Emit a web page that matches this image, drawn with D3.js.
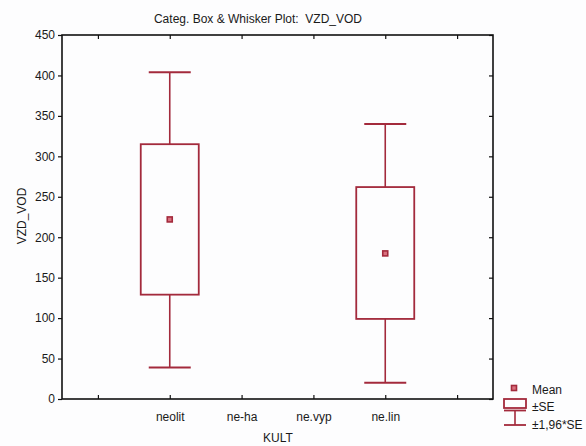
<!DOCTYPE html>
<html>
<head>
<meta charset="utf-8">
<script src="https://cdn.jsdelivr.net/npm/d3@7"></script>
<style>
  html, body { margin: 0; padding: 0; background: #fdfdfe; }
  svg { display: block; }
  text { font-family: "Liberation Sans", Arial, sans-serif; }
</style>
</head>
<body>
<script>
// ---- data ----
const categories = ["", "neolit", "ne-ha", "ne.vyp", "ne.lin", " "];
const groups     = ["neolit", "ne.lin"];
const means      = [222, 180];
const seLow      = [129, 99];
const seHigh     = [315, 262];
const ciLow      = [39, 20];
const ciHigh     = [404, 340];
const yTicks     = [0, 50, 100, 150, 200, 250, 300, 350, 400, 450];
const titleText  = "Categ. Box & Whisker Plot:  VZD_VOD";
const xLabel     = "KULT";
const yLabel     = "VZD_VOD";
const legendLabels = ["Mean", "\u00B1SE", "\u00B11,96*SE"];

const W = 586, H = 446;
const red = "#a32a3c";
const svg = d3.select("body").append("svg").attr("width", W).attr("height", H);

// ---- plot area ----
const L = 62, R = 493, T = 35, B = 399;
const x = d3.scalePoint().domain(categories).range([L, R]).padding(0.5);
const y = d3.scaleLinear().domain([0, 450]).range([B, T]);

const axisStyle = g => {
  g.select(".domain").remove();
  g.selectAll(".tick line").attr("stroke", "#111").attr("stroke-width", 1.2);
  g.selectAll(".tick text").attr("fill", "#1a1a1a").style("font-size", "12px");
};

svg.append("g").attr("transform", `translate(${L},0)`)
  .call(d3.axisLeft(y).tickValues(yTicks).tickSizeInner(4).tickSizeOuter(0).tickPadding(3))
  .call(axisStyle);
svg.append("g").attr("transform", `translate(${R},0)`)
  .call(d3.axisRight(y).tickValues(yTicks).tickSizeInner(-4).tickSizeOuter(0).tickFormat(""))
  .call(axisStyle);
svg.append("g").attr("transform", `translate(0,${B})`)
  .call(d3.axisBottom(x).tickSizeInner(-4).tickSizeOuter(0).tickPadding(13))
  .call(axisStyle);
svg.append("g").attr("transform", `translate(0,${T})`)
  .call(d3.axisTop(x).tickSizeInner(-4).tickSizeOuter(0).tickFormat(""))
  .call(axisStyle);

svg.append("rect").attr("x", L).attr("y", T).attr("width", R - L).attr("height", B - T)
  .attr("fill", "none").attr("stroke", "#111").attr("stroke-width", 1.6);

// ---- boxes ----
const boxW = 58, capW = 42;
const data = groups.map((g, i) => ({g, mean: means[i], lo: seLow[i], hi: seHigh[i], cl: ciLow[i], ch: ciHigh[i]}));
const gb = svg.append("g").attr("stroke", red).attr("fill", "none");
data.forEach(d => {
  const cx = x(d.g);
  gb.append("line").attr("x1", cx).attr("x2", cx).attr("y1", y(d.ch)).attr("y2", y(d.hi)).attr("stroke-width", 1.6);
  gb.append("line").attr("x1", cx).attr("x2", cx).attr("y1", y(d.lo)).attr("y2", y(d.cl)).attr("stroke-width", 1.6);
  gb.append("line").attr("x1", cx - capW / 2).attr("x2", cx + capW / 2).attr("y1", y(d.ch)).attr("y2", y(d.ch)).attr("stroke-width", 2);
  gb.append("line").attr("x1", cx - capW / 2).attr("x2", cx + capW / 2).attr("y1", y(d.cl)).attr("y2", y(d.cl)).attr("stroke-width", 2);
  gb.append("rect").attr("x", cx - boxW / 2).attr("y", y(d.hi)).attr("width", boxW).attr("height", y(d.lo) - y(d.hi)).attr("stroke-width", 1.8);
  gb.append("rect").attr("x", cx - 2.5).attr("y", y(d.mean) - 2.5).attr("width", 5).attr("height", 5)
    .attr("fill", "#d9707e").attr("stroke-width", 1.6);
});

// ---- titles ----
svg.append("text").attr("x", 258).attr("y", 23).attr("text-anchor", "middle")
  .style("font-size", "12px").style("white-space", "pre").attr("fill", "#1a1a1a").text(titleText);
svg.append("text").attr("x", 278).attr("y", 442).attr("text-anchor", "middle")
  .style("font-size", "12px").attr("fill", "#1a1a1a").text(xLabel);
svg.append("text").attr("transform", "translate(26,216) rotate(-90)").attr("text-anchor", "middle")
  .style("font-size", "12px").attr("fill", "#1a1a1a").text(yLabel);

// ---- legend ----
const lg = svg.append("g").attr("stroke", red).attr("fill", "none");
lg.append("rect").attr("x", 511.5).attr("y", 385.5).attr("width", 5).attr("height", 5).attr("fill", "#d9707e").attr("stroke-width", 1.6);
lg.append("rect").attr("x", 504).attr("y", 399).attr("width", 22).attr("height", 9).attr("stroke-width", 1.8);
lg.append("line").attr("x1", 504).attr("x2", 526).attr("y1", 410.5).attr("y2", 410.5).attr("stroke-width", 1.8);
lg.append("line").attr("x1", 515).attr("x2", 515).attr("y1", 410).attr("y2", 425).attr("stroke-width", 1.6);
lg.append("line").attr("x1", 504).attr("x2", 526).attr("y1", 425).attr("y2", 425).attr("stroke-width", 1.8);
const lt = [394, 411, 429];
legendLabels.forEach((t, i) => {
  svg.append("text").attr("x", 532).attr("y", lt[i]).style("font-size", "12px").attr("fill", "#1a1a1a").text(t);
});
</script>
</body>
</html>
